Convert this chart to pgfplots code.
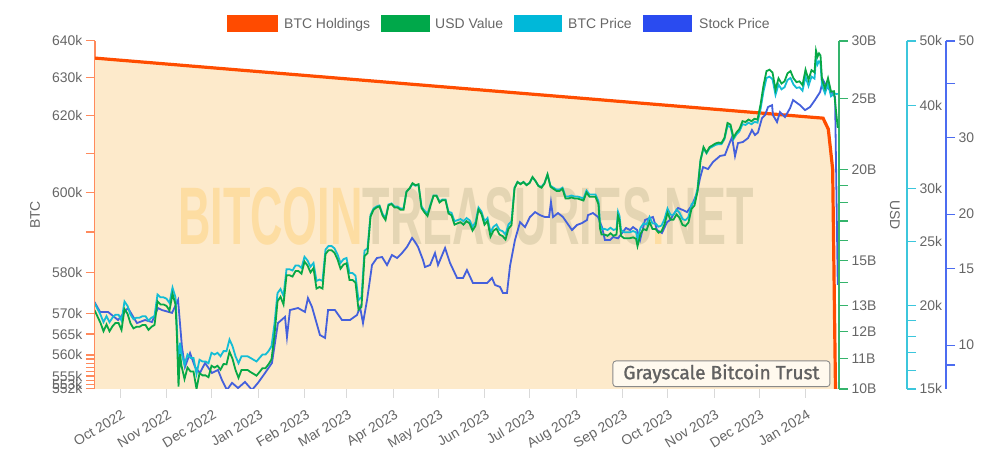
\documentclass[border=0pt]{standalone}
\usepackage{fontspec}
\setmainfont{Liberation Sans}
\newfontfamily\boxfont{Fira Sans}[FakeBold=1.2]
\usepackage{graphicx}
\usepackage{pgfplots}
\usepackage{pgfplotstable}
\pgfplotsset{compat=1.18}

\definecolor{cOrange}{HTML}{FF4D00}
\definecolor{cFill}{HTML}{FDEACB}
\definecolor{cGreen}{HTML}{07A846}
\definecolor{cCyan}{HTML}{14BDD5}
\definecolor{cBlue}{HTML}{4460DC}
\definecolor{aOrange}{HTML}{FF8A5C}
\definecolor{aGreen}{HTML}{34B46C}
\definecolor{aCyan}{HTML}{3CC6DC}
\definecolor{aBlue}{HTML}{4C6CF0}
\definecolor{tgray}{HTML}{666666}
\definecolor{wmA}{HTML}{FDDDA2}
\definecolor{wmB}{HTML}{E4D5B3}
\definecolor{lgBlue}{HTML}{2A4BF0}
\definecolor{lgGreen}{HTML}{00A84A}
\definecolor{lgCyan}{HTML}{00B8D9}
\definecolor{lgOrange}{HTML}{FF4B00}
\definecolor{boxfill}{HTML}{FFF9EE}
\definecolor{boxdraw}{HTML}{8A8A8A}

% d = days since 1 Oct 2022, p = BTC price (k USD), u = USD value of holdings (B USD)
\pgfplotstableread{
d p u
-17 20.2 12.83
-15 19.8 12.57
-13 19.4 12.32
-11 18.9 12.00
-9 19.3 12.26
-7 18.9 12.00
-5 19.2 12.19
-3 19.4 12.32
-1 19.4 12.32
1 19.0 12.05
3 20.3 12.87
5 20.0 12.68
7 19.4 12.30
9 19.1 12.11
11 19.2 12.17
13 19.2 12.17
15 19.3 12.24
17 19.3 12.24
19 19.0 12.05
21 19.2 12.17
23 19.3 12.24
25 20.8 13.19
27 20.6 13.06
29 20.6 13.06
31 20.5 13.00
33 20.2 12.81
35 21.3 13.50
37 20.6 13.06
38 18.5 11.73
39 15.9 10.08
40 17.6 11.16
41 17.0 10.76
43 16.3 10.32
45 16.9 10.70
47 16.7 10.57
49 16.7 10.57
51 15.8 10.00
53 16.6 10.51
55 16.5 10.44
57 16.5 10.44
59 16.4 10.38
61 17.0 10.76
63 16.9 10.70
65 17.0 10.76
67 16.8 10.63
69 17.1 10.82
71 17.1 10.81
73 17.8 11.25
75 17.4 11.00
77 16.8 10.62
79 16.4 10.36
81 16.8 10.62
83 16.8 10.62
85 16.8 10.62
87 16.7 10.55
89 16.6 10.49
91 16.5 10.43
93 16.7 10.55
95 16.9 10.68
97 16.9 10.68
99 17.1 10.81
101 17.4 10.98
103 18.8 11.86
105 20.9 13.19
107 21.2 13.38
109 20.7 13.06
111 22.7 14.32
113 22.7 14.32
115 22.6 14.26
117 23.0 14.51
119 23.0 14.51
121 22.8 14.39
123 23.7 14.95
125 23.4 14.77
127 22.9 14.45
129 23.2 14.64
131 21.8 13.73
133 21.9 13.80
135 21.8 13.73
137 24.3 15.31
139 24.6 15.50
141 24.6 15.50
143 24.4 15.37
145 23.9 15.06
147 23.2 14.62
149 23.5 14.81
151 23.6 14.87
153 22.4 14.11
155 22.4 14.11
157 22.2 13.99
159 20.4 12.85
161 20.6 12.96
163 24.2 15.22
165 24.4 15.35
167 27.4 17.23
169 28.0 17.61
171 28.2 17.74
173 28.3 17.80
175 27.5 17.30
177 27.1 17.05
179 28.4 17.86
181 28.5 17.93
183 28.2 17.74
185 28.2 17.74
187 28.0 17.61
189 28.0 17.61
191 29.7 18.65
193 30.0 18.84
195 30.5 19.15
197 30.3 19.03
199 30.4 19.09
201 28.2 17.71
203 27.8 17.46
205 27.5 17.27
207 28.4 17.84
209 29.3 18.40
211 29.3 18.40
213 28.7 18.02
215 28.9 18.15
217 28.9 18.15
219 27.7 17.40
221 27.6 17.31
223 26.8 16.80
225 26.9 16.87
227 27.0 16.93
229 26.8 16.80
231 27.1 16.99
233 26.9 16.87
235 26.3 16.49
237 26.7 16.74
239 28.1 17.62
241 27.7 17.37
243 26.8 16.80
245 27.1 16.99
247 25.8 16.18
249 26.3 16.49
251 26.5 16.59
253 26.0 16.28
255 25.9 16.21
257 25.6 16.03
259 26.5 16.59
261 26.8 16.78
263 30.1 18.84
265 30.7 19.22
267 30.5 19.09
269 30.7 19.22
271 30.4 19.03
273 30.6 19.16
275 31.2 19.53
277 30.8 19.28
279 30.3 18.97
281 30.2 18.88
283 30.6 19.13
285 31.5 19.69
287 30.3 18.94
289 30.1 18.81
291 29.9 18.69
293 29.9 18.69
295 30.1 18.81
297 29.2 18.25
299 29.2 18.25
301 29.3 18.31
303 29.2 18.25
305 29.2 18.25
307 29.1 18.19
309 29.0 18.13
311 29.8 18.60
313 29.4 18.35
315 29.4 18.35
317 29.4 18.35
319 28.7 17.91
320 26.6 16.60
321 26.1 16.29
323 26.1 16.29
325 26.0 16.22
327 26.2 16.35
329 26.0 16.22
331 26.1 16.29
332 27.7 17.28
333 27.3 17.04
334 26.0 16.22
336 25.8 16.10
338 25.8 16.10
340 25.8 16.10
342 25.9 16.14
344 25.8 16.07
345 25.2 15.70
347 26.2 16.32
349 26.6 16.57
351 26.5 16.51
353 27.2 16.95
355 26.6 16.57
357 26.6 16.57
359 26.3 16.38
361 26.4 16.45
363 27.0 16.82
365 28.0 17.44
367 27.4 17.07
369 27.4 17.07
371 27.9 17.35
373 27.6 17.17
375 27.0 16.79
377 26.9 16.73
379 27.2 16.92
381 28.4 17.66
383 28.7 17.85
385 30.0 18.66
387 33.1 20.59
389 34.5 21.46
391 33.9 21.09
393 34.5 21.46
395 34.7 21.58
397 34.9 21.71
399 35.0 21.77
401 35.0 21.74
403 35.6 22.11
405 37.3 23.16
407 37.1 23.04
409 35.6 22.11
411 36.2 22.48
413 36.6 22.73
415 37.5 23.29
417 37.4 23.23
419 37.7 23.41
421 37.5 23.29
423 37.8 23.47
425 37.7 23.41
427 39.5 24.53
429 42.0 26.08
431 44.0 27.28
433 44.2 27.40
435 43.8 27.16
437 41.5 25.73
439 43.0 26.66
441 42.3 26.23
443 42.6 26.41
445 43.7 27.09
447 44.0 27.28
449 43.0 26.66
451 42.5 26.35
453 42.6 26.41
455 42.1 26.10
457 44.2 27.40
459 42.8 26.54
461 44.2 27.36
463 43.9 27.17
464 47.0 29.09
465 46.1 28.54
466 46.6 28.85
467 46.3 28.66
468 42.9 26.56
470 41.7 25.81
472 43.1 26.68
474 41.3 25.57
476 41.7 25.60
478.5 41.6 22.80
}\btctable

% stock price (USD)
\pgfplotstableread{
d s
-17 12.56
-13.3 11.92
-8 11.92
-1.3 11.42
5.3 12.17
11.3 11.24
16.7 11.42
21.3 11.30
25.3 12.17
28 12.04
34.7 11.86
38.7 12.70
41.3 9.90
43.3 8.91
46.7 9.59
50 8.91
53.3 8.63
56.7 9.10
61.3 8.63
65.3 8.77
68 8.31
71.3 7.89
74.7 8.19
78.7 7.97
83.3 8.23
88 7.89
92 8.19
96.7 8.63
101.3 9.10
105.3 11.24
110 11.61
111.3 10.44
113.3 12.04
118.7 12.17
123.3 11.92
125.3 12.83
128 12.24
133.3 10.55
136.7 10.39
138.7 12.04
143.3 12.04
148 11.42
153.3 11.42
158 11.73
160 12.24
162 11.24
164.7 12.70
168 15.28
171.3 15.86
174.7 15.94
178 15.28
181.3 16.11
184.7 15.86
188 16.28
191.3 16.81
194.7 17.63
196.7 17.26
198.7 16.81
202 15.69
203.3 15.12
206.7 15.28
210 16.28
212 15.28
216.7 16.72
220 15.45
224.7 14.27
228.7 14.27
231.3 14.88
235.3 13.89
240 13.89
244.7 13.89
248 14.27
250 13.75
253.3 13.61
255.3 13.18
258 13.18
260 15.20
263.3 17.44
266.7 19.18
270 18.68
273.3 19.70
276.7 20.22
280 19.90
283.3 19.70
286 19.70
287.3 21.32
288.7 19.70
292 20.12
295.3 19.70
301.3 18.39
304.7 18.89
308 19.08
311.3 19.39
312 19.90
315.3 20.12
318.7 19.70
321.3 18.68
323.3 17.44
326.7 17.44
328.7 17.72
332 17.60
337.3 18.59
340 18.39
342 18.68
344.7 18.39
346.7 17.44
350 19.39
353.3 19.60
355.3 19.70
358 18.39
361.3 18.10
364.7 19.18
366.7 19.39
368.7 19.90
372 20.66
375.3 20.44
378 20.22
381.3 20.98
384.7 22.36
386.7 24.21
388.7 25.66
392 25.39
395.3 26.35
400 27.21
403.3 27.35
405.3 28.52
408 30.08
410 27.20
412 29.13
415.3 29.30
418.7 29.92
421.3 31.21
423.3 30.40
425.3 30.80
428 33.26
430 33.78
432 35.25
434.7 35.61
435.3 33.78
438 32.56
440 34.33
443.3 33.43
446.7 35.05
448.7 36.58
453.3 35.61
456.7 34.69
460 35.25
463.3 36.58
466.7 38.16
468.7 40.67
471.3 39.18
473.3 38.57
476.7 37.17
478.5 13.75
}\stocktable

\pgfplotsset{
  /pgfplots/mybase/.style={scale only axis, width=744bp, height=348bp,
    at={(95bp,64bp)}, anchor=south west,
    xmin=-16.67, xmax=479.33,
    tick align=outside, major tick length=9bp, minor tick length=9bp,
    yticklabel style={font=\fontsize{14}{16}\selectfont, text=tgray},
    clip=true},
  /pgfplots/myright/.style={mybase, axis y line*=right, hide x axis},
}

\begin{document}
\begin{tikzpicture}

% ---- BTC holdings (left axis) ----
\begin{axis}[mybase, ymode=log,
  ymin=552, ymax=640,
  axis x line*=bottom, axis y line*=left,
  x axis line style={draw=black!15, line width=0.8bp, -},
  y axis line style={draw=aOrange, line width=1.3bp, -},
  xtick={0,31,61,92,123,151,182,212,243,273,304,335,365,396,426,457},
  xticklabels={Oct 2022,Nov 2022,Dec 2022,Jan 2023,Feb 2023,Mar 2023,Apr 2023,May 2023,Jun 2023,Jul 2023,Aug 2023,Sep 2023,Oct 2023,Nov 2023,Dec 2023,Jan 2024},
  xticklabel style={rotate=31, anchor=north east, font=\fontsize{14}{16}\selectfont, text=tgray, inner sep=2bp, yshift=-8bp, xshift=-3bp},
  x tick style={draw=black!15, line width=0.8bp},
  ytick={552,553,555,560,565,570,580,600,620,630,640},
  yticklabels={552k,553k,555k,560k,565k,570k,580k,600k,620k,630k,640k},
  minor ytick={554,556,557,558,559,590,610},
  y tick style={draw=aOrange, line width=1.3bp},
]
\addplot[draw=none, fill=cFill] coordinates {(-17,635.3) (468.7,619.3) (472.2,616.4) (475.1,606.0) (477.8,530)} \closedcycle;
\end{axis}

% watermark
\node[anchor=south west, inner sep=0] at (178bp,208bp)
  {\resizebox{576bp}{57bp}{\bfseries\textcolor{wmA}{BITCOIN}\textcolor{wmB}{TREASURIES}\textcolor{wmA}{.}\textcolor{wmB}{NET}}};

\begin{axis}[mybase, ymode=log, ymin=552, ymax=640, hide x axis, hide y axis]
\addplot[cOrange, line width=3.2bp] coordinates {(-17,635.3) (468.7,619.3) (472.2,616.4) (475.1,606.0) (477.8,530)};
\end{axis}

% ---- Stock price (far right axis) ----
\begin{axis}[myright, ymode=log, ymin=7.93, ymax=50,
  y axis line style={draw=aBlue, line width=1.2bp, -, xshift=107bp},
  y tick style={draw=aBlue, line width=1.2bp, xshift=107bp},
  yticklabel style={xshift=107bp},
  ytick={10,15,20,30,50}, yticklabels={10,15,20,30,50},
  minor ytick={9,40}]
\addplot[cBlue, line width=1.8bp] table[x=d, y=s] {\stocktable};
\end{axis}

% ---- BTC price ----
\begin{axis}[myright, ymode=log, ymin=15, ymax=50,
  y axis line style={draw=aCyan, line width=1.2bp, -, xshift=68bp},
  y tick style={draw=aCyan, line width=1.2bp, xshift=68bp},
  yticklabel style={xshift=68bp},
  ytick={15,20,25,30,40,50}, yticklabels={15k,20k,25k,30k,40k,50k},
  minor ytick={16,17,18,19}]
\addplot[cCyan, line width=1.8bp] table[x=d, y=p] {\btctable};
\end{axis}

% ---- USD value ----
\begin{axis}[myright, ymode=log, ymin=10, ymax=30,
  y axis line style={draw=aGreen, line width=1.2bp, -},
  y tick style={draw=aGreen, line width=1.2bp},
  ytick={10,11,12,13,15,20,25,30}, yticklabels={10B,11B,12B,13B,15B,20B,25B,30B},
  minor ytick={14,16,17,18,19}]
\addplot[cGreen, line width=1.8bp] table[x=d, y=u] {\btctable};
\end{axis}

% axis titles
\node[rotate=90, text=tgray, font=\fontsize{14}{16}\selectfont] at (35bp,238bp) {BTC};
\node[rotate=-90, text=tgray, font=\fontsize{14}{16}\selectfont] at (895bp,238bp) {USD};

% label box
\node[draw=boxdraw, fill=boxfill, rounded corners=3bp, line width=0.9bp,
  minimum width=217bp, minimum height=25.7bp, inner sep=0] at (721.4bp,79.2bp)
  {\resizebox{196bp}{!}{\boxfont\color{tgray!95!black}Grayscale Bitcoin Trust}};

% legend
\begin{scope}[font=\fontsize{14}{16}\selectfont]
\fill[lgOrange] (227bp,420.5bp) rectangle (278bp,438.4bp);
\node[anchor=base west, inner sep=0, text=tgray] at (284bp,424.5bp) {BTC Holdings};
\fill[lgGreen] (381bp,420.5bp) rectangle (430bp,438.4bp);
\node[anchor=base west, inner sep=0, text=tgray] at (435bp,424.5bp) {USD Value};
\fill[lgCyan] (514bp,420.5bp) rectangle (562bp,438.4bp);
\node[anchor=base west, inner sep=0, text=tgray] at (568bp,424.5bp) {BTC Price};
\fill[lgBlue] (643bp,420.5bp) rectangle (692bp,438.4bp);
\node[anchor=base west, inner sep=0, text=tgray] at (699bp,424.5bp) {Stock Price};
\end{scope}

\pgfresetboundingbox
\path[use as bounding box] (0,0) rectangle (989bp,453bp);
\end{tikzpicture}
\end{document}
